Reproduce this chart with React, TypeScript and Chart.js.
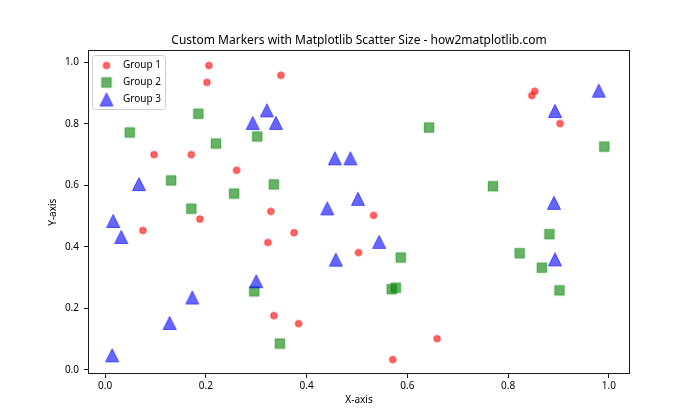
import React, { useEffect, useRef } from 'react';
import { Chart, registerables } from 'chart.js';

Chart.register(...registerables);

const chartTitle = 'Custom Markers with Matplotlib Scatter Size - how2matplotlib.com';
const xAxisTitle = 'X-axis';
const yAxisTitle = 'Y-axis';
const seriesNames = ['Group 1', 'Group 2', 'Group 3'];

const group1X = [0.206, 0.202, 0.349, 0.097, 0.171, 0.261, 0.329, 0.188, 0.075, 0.323, 0.375, 0.335, 0.384, 0.503, 0.533, 0.659, 0.571, 0.853, 0.847, 0.903];
const group1Y = [0.990, 0.935, 0.958, 0.700, 0.700, 0.649, 0.515, 0.490, 0.453, 0.414, 0.446, 0.176, 0.150, 0.381, 0.502, 0.101, 0.033, 0.906, 0.892, 0.801];

const group2X = [0.049, 0.185, 0.220, 0.302, 0.131, 0.256, 0.335, 0.171, 0.296, 0.347, 0.643, 0.991, 0.770, 0.587, 0.569, 0.577, 0.823, 0.882, 0.867, 0.902];
const group2Y = [0.772, 0.833, 0.736, 0.759, 0.616, 0.573, 0.603, 0.524, 0.255, 0.085, 0.788, 0.726, 0.597, 0.365, 0.262, 0.267, 0.379, 0.441, 0.332, 0.258];

const group3X = [0.321, 0.293, 0.339, 0.067, 0.456, 0.487, 0.980, 0.893, 0.502, 0.891, 0.016, 0.032, 0.300, 0.173, 0.128, 0.014, 0.441, 0.458, 0.544, 0.893];
const group3Y = [0.844, 0.803, 0.803, 0.604, 0.688, 0.688, 0.908, 0.842, 0.556, 0.543, 0.484, 0.432, 0.288, 0.235, 0.152, 0.047, 0.525, 0.358, 0.416, 0.359];

const xTicks = [0.0, 0.2, 0.4, 0.6, 0.8, 1.0];
const yTicks = [0.0, 0.2, 0.4, 0.6, 0.8, 1.0];

const FONT = '"Noto Sans", "DejaVu Sans", sans-serif';

function makeMarker(kind: string, color: string): HTMLCanvasElement {
  const c = document.createElement('canvas');
  const size = kind === 'circle' ? 10 : kind === 'square' ? 14 : 18;
  c.width = size;
  c.height = size;
  const ctx = c.getContext('2d')!;
  ctx.fillStyle = color;
  ctx.strokeStyle = color;
  ctx.lineWidth = 1;
  ctx.beginPath();
  if (kind === 'circle') {
    ctx.arc(5, 5, 3.3, 0, Math.PI * 2);
  } else if (kind === 'square') {
    ctx.rect(2.25, 2.25, 9.5, 9.5);
  } else {
    ctx.moveTo(9, 2.5);
    ctx.lineTo(2.5, 15.5);
    ctx.lineTo(15.5, 15.5);
    ctx.closePath();
  }
  ctx.fill();
  ctx.stroke();
  return c;
}

export default function App() {
  const ref = useRef<HTMLCanvasElement>(null);

  useEffect(() => {
    const markers = [
      makeMarker('circle', 'rgba(255,0,0,0.6)'),
      makeMarker('square', 'rgba(0,128,0,0.6)'),
      makeMarker('triangle', 'rgba(0,0,255,0.6)'),
    ];

    const framePlugin = {
      id: 'frameAndLegend',
      afterDraw(chart: any) {
        const { ctx, chartArea } = chart;
        ctx.save();
        // axes frame
        ctx.strokeStyle = '#1a1a1a';
        ctx.lineWidth = 1;
        const l = Math.round(chartArea.left) + 0.5;
        const t = Math.round(chartArea.top) + 0.5;
        const r = Math.round(chartArea.right) - 0.5;
        const b = Math.round(chartArea.bottom) - 0.5;
        ctx.strokeRect(l, t, r - l, b - t);

        // legend
        const L = Math.round(chartArea.left + 4) + 0.5;
        const T = Math.round(chartArea.top + 4.6) + 0.5;
        const W = 73;
        const H = 54;
        ctx.beginPath();
        (ctx as any).roundRect(L, T, W, H, 3);
        ctx.fillStyle = 'rgba(255,255,255,0.8)';
        ctx.fill();
        ctx.strokeStyle = '#cccccc';
        ctx.stroke();
        ctx.font = '10px ' + FONT;
        ctx.textBaseline = 'middle';
        ctx.textAlign = 'left';
        ctx.fillStyle = '#000';
        seriesNames.forEach((name, i) => {
          const cy = T + 10 + 17 * i;
          const m = markers[i];
          ctx.drawImage(m, L + 14 - m.width / 2, cy - m.height / 2);
          ctx.fillText(name, L + 30.5, cy);
        });
        ctx.restore();
      },
    };

    const toPoints = (xs: number[], ys: number[]) => xs.map((x, i) => ({ x, y: ys[i] }));

    const chart = new Chart(ref.current!, {
      type: 'scatter',
      data: {
        datasets: [
          { label: seriesNames[0], data: toPoints(group1X, group1Y), pointStyle: markers[0] as any, pointRadius: 5, pointHoverRadius: 5, order: 3 },
          { label: seriesNames[1], data: toPoints(group2X, group2Y), pointStyle: markers[1] as any, pointRadius: 5, pointHoverRadius: 5, order: 2 },
          { label: seriesNames[2], data: toPoints(group3X, group3Y), pointStyle: markers[2] as any, pointRadius: 5, pointHoverRadius: 5, order: 1 },
        ],
      },
      options: {
        responsive: false,
        animation: false,
        devicePixelRatio: 1,
        layout: { padding: { left: 0, right: 70, top: 0, bottom: 0 } },
        plugins: {
          legend: { display: false },
          tooltip: { enabled: false },
          title: {
            display: true,
            text: chartTitle,
            fullSize: false,
            color: '#000',
            font: { family: FONT, size: 12, weight: 'normal' },
            padding: { top: 33, bottom: 3 },
          },
        },
        scales: {
          x: {
            type: 'linear',
            min: -0.034,
            max: 1.042,
            afterBuildTicks: (s: any) => { s.ticks = xTicks.map((v) => ({ value: v })); },
            afterFit: (s: any) => { s.height = 46; },
            ticks: {
              callback: (v: any) => Number(v).toFixed(1),
              color: '#000',
              font: { family: FONT, size: 10 },
              padding: 2,
              maxRotation: 0,
              autoSkip: false,
            },
            grid: { drawOnChartArea: false, drawTicks: true, tickLength: 4, color: '#1a1a1a' },
            border: { display: false },
            title: { display: true, text: xAxisTitle, color: '#000', font: { family: FONT, size: 10 }, padding: { top: 0, bottom: 14 } },
          },
          y: {
            type: 'linear',
            min: -0.014,
            max: 1.039,
            afterBuildTicks: (s: any) => { s.ticks = yTicks.map((v) => ({ value: v })); },
            afterFit: (s: any) => { s.width = 88; },
            ticks: {
              callback: (v: any) => Number(v).toFixed(1),
              color: '#000',
              font: { family: FONT, size: 10 },
              padding: 5,
              autoSkip: false,
            },
            grid: { drawOnChartArea: false, drawTicks: true, tickLength: 4, color: '#1a1a1a' },
            border: { display: false },
            title: { display: true, text: yAxisTitle, color: '#000', font: { family: FONT, size: 10 }, padding: { top: 47, bottom: 0 } },
          },
        },
      },
      plugins: [framePlugin],
    } as any);

    return () => chart.destroy();
  }, []);

  return (
    <div style={{ position: 'fixed', left: 0, top: 0, width: 700, height: 420, background: '#fff' }}>
      <canvas ref={ref} width={700} height={420} style={{ display: 'block', width: 700, height: 420 }} />
    </div>
  );
}
